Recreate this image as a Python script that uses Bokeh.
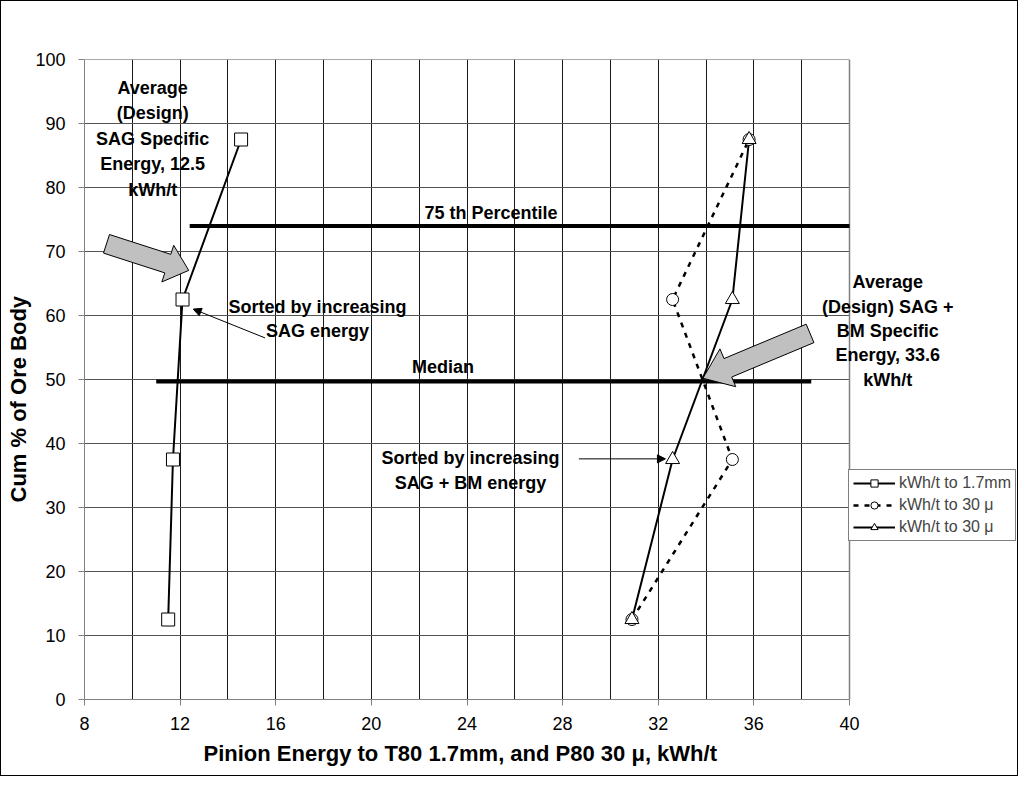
import math
from bokeh.plotting import figure
from bokeh.models import (Label, Legend, LegendItem, Arrow, NormalHead, Title,
                          SingleIntervalTicker, FixedTicker, Range1d)
from bokeh.embed import file_html
from bokeh.resources import INLINE

# ---------------- data ----------------
cum_pct = [12.5, 37.5, 62.5, 87.5]
sag_energy_17mm = [11.5, 11.7, 12.1, 14.55]
total_energy_30u_unsorted = [30.9, 35.1, 32.6, 35.8]
total_energy_30u_sorted = [30.9, 32.6, 35.1, 35.8]
series_labels = ["kWh/t to 1.7mm", "kWh/t to 30 μ", "kWh/t to 30 μ"]
x_tick_values = [8, 12, 16, 20, 24, 28, 32, 36, 40]
y_tick_values = [0, 10, 20, 30, 40, 50, 60, 70, 80, 90, 100]
percentile_75 = 74.0
median_pct = 49.7
design_sag = 12.5
design_total = 33.6

x_title = "Pinion Energy to T80 1.7mm, and P80 30 μ, kWh/t"
y_title = "Cum % of Ore Body"

FONT = "Liberation Sans"
X0, X1 = 8, 40            # plotted axis extent
PLOT_W = 765              # pixels between x=8 and x=40
FH = 640
ppx = PLOT_W / (X1 - X0)
ppy = FH / 100.0
FW = 933                  # frame extends to the right edge (room for notes/legend)
X_END = X0 + FW / ppx

p = figure(frame_width=FW, frame_height=FH,
           x_range=Range1d(X0, X_END), y_range=Range1d(0, 100),
           output_backend="svg", toolbar_location=None,
           min_border_left=79, min_border_right=0,
           min_border_top=58, min_border_bottom=76,
           background_fill_color="white", border_fill_color="white")
p.styles = {"border": "1px solid black"}
p.outline_line_color = None

# axes
p.xaxis.ticker = FixedTicker(ticks=x_tick_values)
p.yaxis.ticker = FixedTicker(ticks=y_tick_values)
p.xaxis.bounds = (X0, X1)
p.xgrid.ticker = SingleIntervalTicker(interval=2, num_minor_ticks=0)
p.xgrid.bounds = (X0 + 1, X1 - 1)
p.xgrid.grid_line_color = "#1a1a1a"
p.xgrid.grid_line_width = 1
p.ygrid.visible = False
for ax in (p.xaxis[0], p.yaxis[0]):
    ax.axis_line_color = "#808080"
    ax.major_tick_line_color = "#808080"
    ax.minor_tick_line_color = None
    ax.major_tick_out = 6
    ax.major_tick_in = 0
    ax.major_label_text_font = FONT
    ax.major_label_text_font_size = "18px"
    ax.major_label_text_color = "black"
p.xaxis.major_label_standoff = 11
p.yaxis.major_label_standoff = 13

# axis titles (placed as side titles so they can sit where the original has them)
x_title_left_px = 119          # left end of the x title, measured from x = 8
y_title_bottom_px = 197        # lower end of the y title, measured from y = 0
p.add_layout(Title(text=x_title, align="left", offset=x_title_left_px,
                   text_font=FONT, text_font_size="22px", text_font_style="bold",
                   text_color="black", standoff=12), "below")
p.add_layout(Title(text=y_title, align="left", offset=y_title_bottom_px,
                   text_font=FONT, text_font_size="22px", text_font_style="bold",
                   text_color="black", standoff=4), "left")

# horizontal grid lines and right frame edge (only over 8..40)
p.segment(x0=X0, x1=X1, y0=y_tick_values[1:], y1=y_tick_values[1:],
          line_color="#555555", line_width=1)
p.line([X1, X1], [0, 100], line_color="#808080", line_width=1.5)


# ---------------- gray block arrows (annotations) ----------------
def block_arrow(tail, tip, shaft_w, head_w, head_len):
    tx, ty = tail[0] * ppx, tail[1] * ppy
    hx, hy = tip[0] * ppx, tip[1] * ppy
    dx, dy = hx - tx, hy - ty
    L = math.hypot(dx, dy)
    ux, uy = dx / L, dy / L
    nx, ny = -uy, ux
    bx, by = hx - ux * head_len, hy - uy * head_len
    pts = [
        (tx + nx * shaft_w / 2, ty + ny * shaft_w / 2),
        (bx + nx * shaft_w / 2, by + ny * shaft_w / 2),
        (bx + nx * head_w / 2, by + ny * head_w / 2),
        (hx, hy),
        (bx - nx * head_w / 2, by - ny * head_w / 2),
        (bx - nx * shaft_w / 2, by - ny * shaft_w / 2),
        (tx - nx * shaft_w / 2, ty - ny * shaft_w / 2),
    ]
    return [q[0] / ppx for q in pts], [q[1] / ppy for q in pts]


# reference lines
p75_extent = [12.4, 40.0]
median_extent = [11.0, 38.4]
p.line(p75_extent, [percentile_75] * 2, line_color="black", line_width=4)
p.line(median_extent, [median_pct] * 2, line_color="black", line_width=4)

# series
r1 = p.line(sag_energy_17mm, cum_pct, line_color="black", line_width=2)
r2 = p.line(total_energy_30u_unsorted, cum_pct, line_color="black",
            line_width=2.5, line_dash="5 6")
r3 = p.line(total_energy_30u_sorted, cum_pct, line_color="black", line_width=2)

ax_, ay_ = block_arrow((8.92, 71.2), (12.36, 67.05), 19.5, 38.5, 22)
p.patch(ax_, ay_, fill_color="#c0c0c0", line_color="black", line_width=1)
bx_, by_ = block_arrow((38.35, 57.2), (33.87, 50.2), 20, 41, 27)
p.patch(bx_, by_, fill_color="#c0c0c0", line_color="black", line_width=1)

m1 = p.scatter(sag_energy_17mm, cum_pct, marker="square", size=13,
               fill_color="white", line_color="black", line_width=1)
m2 = p.scatter(total_energy_30u_unsorted, cum_pct, marker="circle", size=12,
               fill_color="white", line_color="black", line_width=1)
m3 = p.scatter(total_energy_30u_sorted, cum_pct, marker="triangle", size=14,
               fill_color="white", line_color="black", line_width=1)


# ---------------- text annotations ----------------
def add_text(x, y, text, size="18px"):
    p.add_layout(Label(x=x, y=y, text=text, text_align="center",
                       text_baseline="middle", text_font=FONT,
                       text_font_size=size, text_font_style="bold",
                       text_color="black"))


left_note = ["Average", "(Design)", "SAG Specific", f"Energy, {design_sag}", "kWh/t"]
left_note_y = [95.6, 91.6, 87.6, 83.7, 79.6]
for t, y in zip(left_note, left_note_y):
    add_text(10.85, y, t)

right_note = ["Average", "(Design) SAG +", "BM Specific", f"Energy, {design_total}", "kWh/t"]
right_note_y = [65.2, 61.3, 57.6, 53.9, 50.0]
for t, y in zip(right_note, right_note_y):
    add_text(41.6, y, t)

sag_note = ["Sorted by increasing", "SAG energy"]
for t, y in zip(sag_note, [61.3, 57.6]):
    add_text(17.75, y, t)

bm_note = ["Sorted by increasing", "SAG + BM energy"]
for t, y in zip(bm_note, [37.8, 33.9]):
    add_text(24.15, y, t)

add_text(25.0, 76.0, "75 th Percentile")
add_text(23.0, 52.0, "Median")

p.add_layout(Arrow(end=NormalHead(size=8, fill_color="black", line_color="black"),
                   x_start=15.55, y_start=56.5, x_end=12.55, y_end=61.0,
                   line_color="black", line_width=1))
p.add_layout(Arrow(end=NormalHead(size=8, fill_color="black", line_color="black"),
                   x_start=28.68, y_start=37.6, x_end=32.3, y_end=37.6,
                   line_color="black", line_width=1))

# ---------------- legend ----------------
legend = Legend(items=[
    LegendItem(label=series_labels[0], renderers=[r1, m1]),
    LegendItem(label=series_labels[1], renderers=[r2, m2]),
    LegendItem(label=series_labels[2], renderers=[r3, m3]),
], location=(PLOT_W - 1, 158))
legend.border_line_color = "black"
legend.border_line_width = 1
legend.background_fill_color = "white"
legend.background_fill_alpha = 1
legend.label_text_font = FONT
legend.label_text_font_size = "16px"
legend.glyph_width = 42
legend.glyph_height = 18
legend.label_height = 18
legend.spacing = 4
legend.padding = 4
legend.margin = 0
legend.label_standoff = 4
p.add_layout(legend)

open("out.html", "w").write(file_html(p, INLINE))
